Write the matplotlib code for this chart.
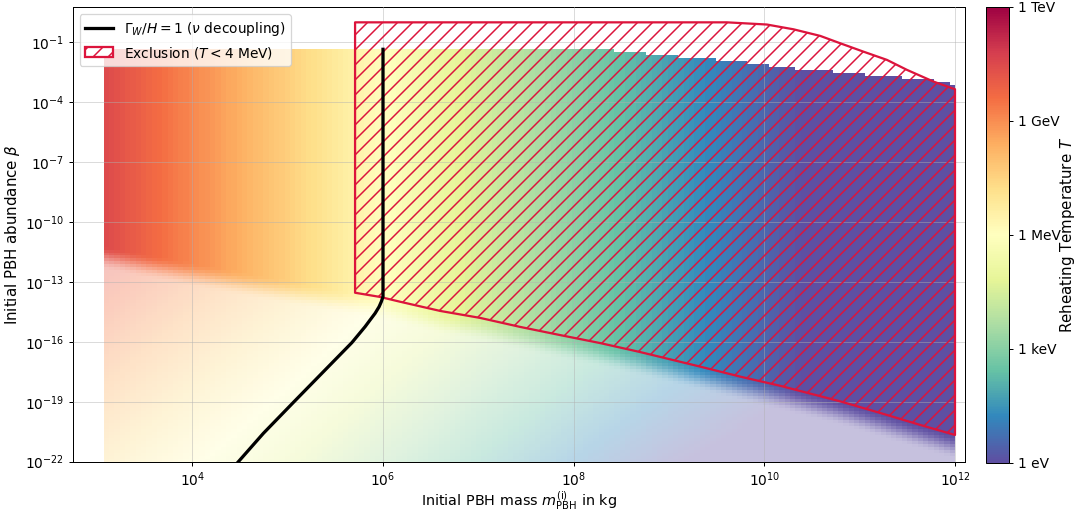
#!/usr/bin/env python3
"""
PBH reheating plot: initial abundance beta vs. initial mass, coloured by the
reheating temperature, with the BBN exclusion (T < 4 MeV) hatched on top.
"""

import numpy as np
import matplotlib.pyplot as plt
from matplotlib.colors import LogNorm
from matplotlib.cm import ScalarMappable
from matplotlib.patches import Polygon, Patch
from matplotlib.lines import Line2D
from matplotlib.ticker import NullLocator

plt.rcParams['hatch.linewidth'] = 1.2

# ---------------------------------------------------------------------------
# Data (log10 of mass in kg, log10 of beta, log10 of T in GeV)
# ---------------------------------------------------------------------------

# reheating temperature once PBHs dominate
logm_ref = [3.0, 4.0, 5.0, 6.0, 7.0, 8.0, 9.0, 10.0, 11.0, 12.0]
logT_dom = [1.6, 0.1, -1.4, -2.95, -4.5, -5.95, -7.3, -8.5, -9.7, -10.9]

# lower edge of the PBH-dominated band
logm_dom = [3.0, 4.0, 5.13, 5.707, 5.969, 6.179, 6.599, 7.019, 7.438, 7.858,
            8.278, 8.698, 9.328, 9.747, 10.167, 10.797, 11.216, 11.636, 12.0]
logb_dom = [-11.15, -12.07, -13.07, -13.54, -13.75, -13.99, -14.45, -14.80,
            -15.25, -15.66, -16.06, -16.51, -17.24, -17.74, -18.20, -18.98,
            -19.56, -20.16, -20.66]

# upper edge of the scanned grid
logm_top = [3.0, 8.3, 8.6, 8.9, 9.3, 9.65, 9.95, 10.2, 10.5, 10.8, 11.1,
            11.4, 11.75, 12.0]
logb_top = [-1.35, -1.35, -1.5, -1.65, -1.8, -1.95, -2.1, -2.25, -2.4, -2.5,
            -2.65, -2.75, -2.9, -3.15]

# drop of log T per decade of beta below the dominated band
t_slope = 0.3

# exclusion region T < 4 MeV (upper edge left->right, lower edge right->left)
excl_m_upper = [5.707, 5.707, 9.608, 10.027, 10.307, 10.587, 10.797, 11.041,
                11.286, 11.496, 11.776, 12.0]
excl_b_upper = [-13.54, 0.0, 0.0, -0.11, -0.35, -0.68, -1.05, -1.47, -1.88,
                -2.38, -2.97, -3.35]
excl_m_lower = logm_dom[3:][::-1]
excl_b_lower = logb_dom[3:][::-1]

# Gamma_W / H = 1 (neutrino decoupling)
nu_m = [6.0, 6.0, 5.982, 5.959, 5.917, 5.865, 5.812, 5.673, 5.060, 4.745,
        4.483, 4.40]
nu_b = [-1.35, -13.74, -13.99, -14.24, -14.57, -14.90, -15.24, -16.04,
        -19.03, -20.58, -22.0, -22.45]

# colour bar
cbar_ticks = [1e-9, 1e-6, 1e-3, 1.0, 1e3]
cbar_labels = ['1 eV', '1 keV', '1 MeV', '1 GeV', '1 TeV']

EXCL_COLOR = 'crimson'
DPI = 90


def temperature_field(cmap, norm):
    """Build the RGBA mesh of the reheating temperature."""
    lm_edges = np.linspace(3.07, 12.0, 161)
    lb_edges = np.linspace(-22.0, -1.35, 139)
    lm_c = 0.5 * (lm_edges[:-1] + lm_edges[1:])
    lb_c = 0.5 * (lb_edges[:-1] + lb_edges[1:])
    LM, LB = np.meshgrid(lm_c, lb_c)

    t_top = np.interp(LM, logm_ref, logT_dom)
    b_dom = np.interp(LM, logm_dom, logb_dom)
    b_max = np.interp(LM, logm_top, logb_top)

    depth = np.clip(b_dom - LB, 0, None)
    logT = t_top - t_slope * depth
    rgba = cmap(norm(10.0 ** logT))

    # fade out below the dominated band
    s = np.clip(depth / 1.2, 0, 1)
    s = s * s * (3 - 2 * s)
    alpha = 1.0 - 0.65 * s
    alpha[LB > b_max] = 0.0
    rgba[..., 3] = alpha
    return 10.0 ** lm_edges, 10.0 ** lb_edges, rgba


def main():
    fig = plt.figure(figsize=(1077 / DPI, 511 / DPI), dpi=DPI)
    ax = fig.add_axes([72.7 / 1077, 1 - 461.7 / 511, 892.3 / 1077, 454.4 / 511])
    cax = fig.add_axes([986 / 1077, 1 - 462.5 / 511, 23.3 / 1077, 455.8 / 511])

    cmap = plt.get_cmap('Spectral_r')
    norm = LogNorm(vmin=1e-9, vmax=1e3)

    X, Y, rgba = temperature_field(cmap, norm)
    ax.pcolormesh(X, Y, rgba, shading='flat', edgecolors='none',
                  antialiased=False, zorder=0.5)

    # exclusion polygon
    px = np.concatenate([excl_m_upper, excl_m_lower])
    py = np.concatenate([excl_b_upper, excl_b_lower])
    excl = Polygon(np.column_stack([10.0 ** px, 10.0 ** py]), closed=True,
                   facecolor='none', edgecolor=EXCL_COLOR, hatch='//',
                   linewidth=1.8, joinstyle='round', zorder=3)
    ax.add_patch(excl)

    ax.plot(10.0 ** np.array(nu_m), 10.0 ** np.array(nu_b), color='black',
            lw=2.6, zorder=4)

    ax.set_xscale('log')
    ax.set_yscale('log')
    ax.set_xlim(10 ** 2.745, 10 ** 12.105)
    ax.set_ylim(1e-22, 10 ** 0.753)
    ax.set_xticks([1e4, 1e6, 1e8, 1e10, 1e12])
    ax.set_yticks([10.0 ** e for e in range(-22, 0, 3)])
    ax.xaxis.set_minor_locator(NullLocator())
    ax.yaxis.set_minor_locator(NullLocator())
    ax.tick_params(labelsize=11)
    ax.set_axisbelow(False)
    ax.grid(True, alpha=0.45)

    ax.set_xlabel(r'Initial PBH mass $m_{\mathrm{PBH}}^{(\mathrm{i})}$ in kg',
                  fontsize=11.5, labelpad=0)
    ax.set_ylabel(r'Initial PBH abundance $\beta$', fontsize=12, labelpad=2)

    handles = [
        Line2D([], [], color='black', lw=2.6),
        Patch(facecolor='white', edgecolor=EXCL_COLOR, hatch='//', lw=1.8),
    ]
    labels = [r'$\Gamma_W/H = 1$ ($\nu$ decoupling)',
              r'Exclusion ($T < 4$ MeV)']
    ax.legend(handles, labels, loc='upper left', fontsize=11)

    sm = ScalarMappable(norm=norm, cmap=cmap)
    cbar = fig.colorbar(sm, cax=cax)
    cbar.set_ticks(cbar_ticks)
    cbar.set_ticklabels(cbar_labels)
    cbar.ax.yaxis.set_minor_locator(NullLocator())
    cbar.ax.tick_params(labelsize=11)
    cbar.set_label(r'Reheating Temperature $T$', fontsize=12, labelpad=-2.5)

    fig.savefig('out.png', dpi=DPI)


if __name__ == '__main__':
    main()
